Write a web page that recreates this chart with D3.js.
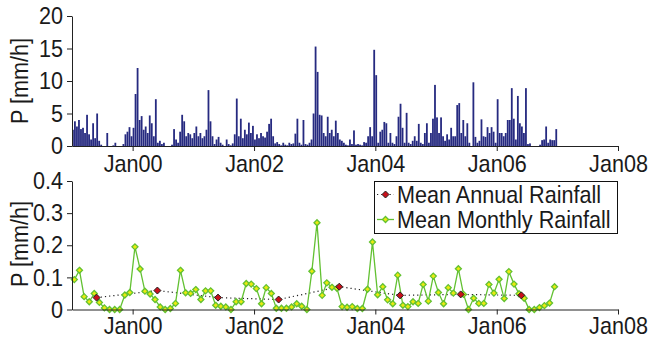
<!DOCTYPE html>
<html><head><meta charset="utf-8">
<script src="https://cdn.jsdelivr.net/npm/d3@7"></script>
<style>body{margin:0;background:#fff}svg{display:block}</style>
</head><body>
<svg id="c" width="652" height="346"></svg>
<script>
// ---------- data ----------
const tickYearsX = [2000, 2002, 2004, 2006, 2008];
const tickLabelsX = ["Jan00", "Jan02", "Jan04", "Jan06", "Jan08"];
const ticksTop = [0, 5, 10, 15, 20];
const ticksBottom = [0, 0.1, 0.2, 0.3, 0.4];
const tickLabelsBottom = ["0", "0.1", "0.2", "0.3", "0.4"];
const yLabel = "P [mm/h]";
const legendLabels = ["Mean Annual Rainfall", "Mean Monthly Rainfall"];

const rainYears = [1999, 2000, 2001, 2002, 2003, 2004, 2005, 2006];
// hourly rainfall peaks, ~30 samples per year (mm/h)
const rain1999 = [2.5,3.8,3.0,4.0,2.6,2.8,2.0,4.8,1.8,1.0,3.5,1.2,5.0,0.8,0.2,0,0,2.0,0,0,0.1,0.5,0,0,0,0.3,1.8,2.2,2.9,1.5];
const rain2000 = [2.8,8.0,12.0,4.0,4.6,2.5,3.0,2.0,4.7,3.5,1.5,7.2,0.5,0.8,0.3,0.5,0,0,0,0.2,2.6,1.0,0.5,2.2,4.8,3.8,1.5,2.0,1.8,1.2];
const rain2001 = [2.0,3.0,1.5,2.0,1.2,1.5,2.5,8.6,3.8,1.5,0.3,1.0,1.4,0.5,0.2,0,1.0,0.3,0.1,0.4,1.8,7.3,1.5,4.2,1.2,2.5,1.8,3.6,2.0,3.1];
const rain2002 = [1.0,1.8,1.2,2.0,1.5,1.3,2.2,3.4,4.2,1.5,0.4,0.6,0.3,0.1,0.5,0.2,0.1,0.5,0.3,0.4,1.9,4.2,0.5,0.2,4.0,0.3,0.2,0.5,1.0,5.0];
const rain2003 = [15.3,11.4,4.8,4.7,2.0,1.5,4.5,2.0,2.5,1.5,3.9,2.0,1.0,0.8,0.5,0.2,0.1,1.0,0.3,2.4,0.2,0.3,0.2,0.1,0.6,0.5,1.5,2.9,1.5,14.8];
const rain2004 = [10.9,0.5,2.2,2.5,3.7,3.5,0.5,2.0,0.5,0.3,1.5,4.5,6.5,2.8,0.5,5.1,0.5,0.3,0.8,1.5,0.8,3.4,0.5,0.3,2.0,3.5,0.5,2.0,4.2,9.4];
const rain2005 = [4.4,2.0,4.4,1.5,0.8,1.8,1.0,2.8,1.5,1.5,6.3,6.6,2.0,4.0,1.5,3.5,0.5,0,9.8,1.4,0.5,0.8,4.1,1.5,1.4,2.9,2.0,2.9,2.2,0.5];
const rain2006 = [7.2,2.0,2.0,1.5,2.0,4.0,4.0,8.9,4.2,1.0,7.7,3.5,3.0,2.0,8.9,0.3,0.4,0,0,0,0,0.2,0.9,1.0,3.0,0.5,1.0,0.9,0.9,2.6];
const rainByYear = [rain1999, rain2000, rain2001, rain2002, rain2003, rain2004, rain2005, rain2006];

// mean monthly rainfall, Jan 1999 .. Dec 2006 (mm/h)
const monthlyRain = [
  0.093,0.122,0.040,0.024,0.050,0.022,0.005,0,0,0,0.045,0.053,
  0.195,0.126,0.057,0.048,0.031,0.008,0,0.003,0.019,0.122,0.052,0.050,
  0.062,0.031,0.058,0.058,0.013,0.010,0.008,0,0.024,0.024,0.081,0.079,
  0.065,0.018,0.068,0.050,0.004,0.004,0.004,0.008,0.018,0.010,0,0.119,
  0.270,0.044,0.083,0.069,0.066,0.009,0.007,0.009,0.003,0.003,0.063,0.210,
  0.046,0.071,0.030,0.018,0.107,0.013,0.009,0.024,0.019,0.078,0.026,0.104,
  0.053,0.018,0.068,0.051,0.127,0.047,0,0.035,0.019,0.019,0.078,0.051,
  0.094,0.034,0.118,0.079,0.049,0.035,0,0,0.006,0.012,0.020,0.071];
// mean annual rainfall 1999 .. 2006 (mm/h)
const annualRain = [0.037, 0.059, 0.037, 0.031, 0.071, 0.044, 0.047, 0.044];

// ---------- drawing ----------
const svg = d3.select("#c");
const FONT = "'Liberation Sans', Arial, Helvetica, sans-serif";
const FS = 24, SX = 0.9;
const axisColor = "#222";
const textColor = "#1a1a1a";

const x = d3.scaleTime()
  .domain([new Date(1999, 0, 1), new Date(2008, 0, 1)])
  .range([72, 618]);
const yTop = d3.scaleLinear().domain([0, 20]).range([146, 16]);
const yBot = d3.scaleLinear().domain([0, 0.4]).range([309.5, 181]);

function styleAxis(g, isLeft) {
  g.select(".domain").attr("stroke", axisColor).attr("stroke-width", 1);
  g.selectAll(".tick line").attr("stroke", axisColor).attr("stroke-width", 1);
  g.selectAll(".tick text")
    .attr("font-family", FONT).attr("font-size", FS).attr("fill", textColor)
    .each(function () {
      const t = d3.select(this);
      if (isLeft) t.attr("x", +t.attr("x") / SX);
      t.attr("transform", `scale(${SX},1)`);
    });
}

function xAxis(gy, pad) {
  const g = svg.append("g").attr("transform", `translate(0,${gy})`)
    .call(d3.axisBottom(x)
      .tickValues(tickYearsX.map(yy => new Date(yy, 0, 1)))
      .tickFormat((d, i) => tickLabelsX[i])
      .tickSize(5).tickSizeOuter(0).tickPadding(pad));
  styleAxis(g, false);
}

function yAxis(scale, vals, labels) {
  const ax = d3.axisLeft(scale).tickValues(vals).tickSize(5).tickSizeOuter(0).tickPadding(4);
  if (labels) ax.tickFormat((d, i) => labels[i]);
  const g = svg.append("g").attr("transform", `translate(72,0)`).call(ax);
  styleAxis(g, true);
}

function yTitle(cy) {
  svg.append("text")
    .attr("transform", `translate(28,${cy}) rotate(-90) scale(${SX},1)`)
    .attr("text-anchor", "middle")
    .attr("font-family", FONT).attr("font-size", FS).attr("fill", textColor)
    .text(yLabel);
}

// ----- top panel: bars -----
const barData = [];
rainYears.forEach((yr, yi) => {
  const start = new Date(yr, 0, 1), end = new Date(yr + 1, 0, 1);
  const n = rainByYear[yi].length;
  rainByYear[yi].forEach((v, i) => {
    barData.push({ date: new Date(+start + (end - start) * i / n), v });
  });
});
svg.append("g").selectAll("rect").data(barData).join("rect")
  .attr("x", d => x(d.date))
  .attr("width", 1.8)
  .attr("y", d => yTop(d.v))
  .attr("height", d => yTop(0) - yTop(d.v))
  .attr("fill", "#262a80");

yAxis(yTop, ticksTop);
xAxis(146, 4);
yTitle(81);

// ----- bottom panel -----
const monthData = monthlyRain.map((v, k) => ({
  date: new Date(1999 + Math.floor(k / 12), k % 12, 15), v }));
const annualData = annualRain.map((v, i) => ({ date: new Date(rainYears[i], 4, 29), v }));

const diamond = r => `M0,${-r}L${r},0L0,${r}L${-r},0Z`;

svg.append("path").datum(annualData)
  .attr("d", d3.line().x(d => x(d.date)).y(d => yBot(d.v)))
  .attr("fill", "none").attr("stroke", "#222").attr("stroke-width", 1.2)
  .attr("stroke-dasharray", "1.2,3");

svg.append("path").datum(monthData)
  .attr("d", d3.line().x(d => x(d.date)).y(d => yBot(d.v)))
  .attr("fill", "none").attr("stroke", "#62c132").attr("stroke-width", 1.3);

svg.append("g").selectAll("path").data(monthData).join("path")
  .attr("transform", d => `translate(${x(d.date)},${yBot(d.v)})`)
  .attr("d", diamond(3))
  .attr("fill", "#eaea10").attr("stroke", "#62c132").attr("stroke-width", 1.3);

svg.append("g").selectAll("path").data(annualData).join("path")
  .attr("transform", d => `translate(${x(d.date)},${yBot(d.v)})`)
  .attr("d", diamond(3.5))
  .attr("fill", "#c8101a").attr("stroke", "#222").attr("stroke-width", 1);

yAxis(yBot, ticksBottom, tickLabelsBottom);
xAxis(309.5, 2.5);
yTitle(244);

// legend
const lg = svg.append("g");
lg.append("rect").attr("x", 374.5).attr("y", 181.5).attr("width", 243).attr("height", 52)
  .attr("fill", "#fff").attr("stroke", "#111").attr("stroke-width", 1);
const rows = [194.5, 219.5];
lg.append("line").attr("x1", 377).attr("x2", 394).attr("y1", rows[0]).attr("y2", rows[0])
  .attr("stroke", "#222").attr("stroke-width", 1.2).attr("stroke-dasharray", "1.2,3");
lg.append("path").attr("transform", `translate(385.5,${rows[0]})`).attr("d", diamond(3.5))
  .attr("fill", "#c8101a").attr("stroke", "#222").attr("stroke-width", 1);
lg.append("line").attr("x1", 377).attr("x2", 394).attr("y1", rows[1]).attr("y2", rows[1])
  .attr("stroke", "#62c132").attr("stroke-width", 1.3);
lg.append("path").attr("transform", `translate(385.5,${rows[1]})`).attr("d", diamond(3))
  .attr("fill", "#eaea10").attr("stroke", "#62c132").attr("stroke-width", 1.3);
legendLabels.forEach((t, i) => {
  lg.append("text")
    .attr("transform", `translate(397,${rows[i]}) scale(${SX},1)`)
    .attr("dy", "0.35em")
    .attr("font-family", FONT).attr("font-size", FS).attr("fill", textColor)
    .text(t);
});
</script>
</body></html>
